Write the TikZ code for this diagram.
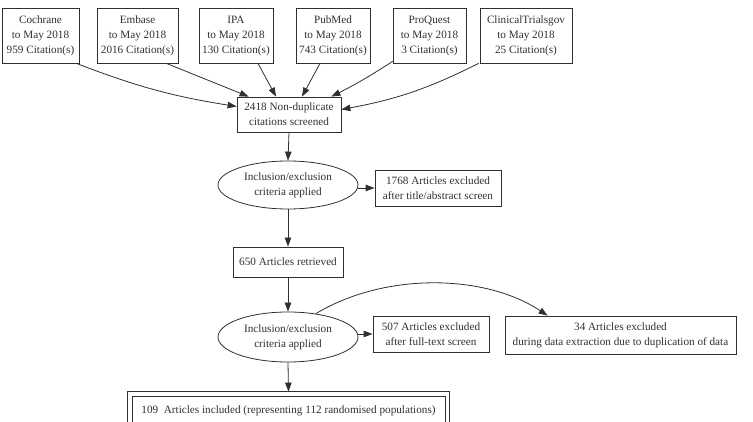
\documentclass[tikz,border=0pt]{standalone}
\usepackage{fontspec}
\setmainfont{Liberation Serif}
\usetikzlibrary{arrows.meta,shapes.geometric}
\definecolor{ink}{HTML}{303030}
\tikzset{
  base/.style={draw=ink,text=ink,line width=0.8pt,inner sep=0pt,align=center,
    font=\fontsize{11.2}{15}\selectfont},
  box/.style={base,rectangle},
  oval/.style={base,ellipse,minimum width=140pt,minimum height=48pt},
  edge/.style={draw=ink,line width=0.8pt,-{Triangle[length=9pt,width=6.5pt]}}
}
\begin{document}
\begin{tikzpicture}[x=1pt,y=-1pt]
\useasboundingbox (0,0) rectangle (753,422);
% sources
\node[box,minimum width=77pt,minimum height=55pt] (coch) at (40.5,35.5) {Cochrane\\to May 2018\\959 Citation(s)};
\node[box,minimum width=81pt,minimum height=55pt] (emb) at (137.5,35.5) {Embase\\to May 2018\\2016 Citation(s)};
\node[box,minimum width=74pt,minimum height=55pt] (ipa) at (236,35.5) {IPA\\to May 2018\\130 Citation(s)};
\node[box,minimum width=74pt,minimum height=55pt] (pub) at (333,35.5) {PubMed\\to May 2018\\743 Citation(s)};
\node[box,minimum width=73pt,minimum height=55pt] (pro) at (429.5,35.5) {ProQuest\\to May 2018\\3 Citation(s)};
\node[box,minimum width=92pt,minimum height=55pt] (ctg) at (526,35.5) {ClinicalTrialsgov\\to May 2018\\25 Citation(s)};
% main column
\node[box,minimum width=104pt,minimum height=35pt] (nd) at (289,114.5) {2418 Non-duplicate\\citations screened};
\node[oval] (e1) at (288,185) {Inclusion/exclusion\\criteria applied};
\node[box,minimum width=126pt,minimum height=36pt] (x1) at (438,188) {1768 Articles excluded\\after title/abstract screen};
\node[box,minimum width=110pt,minimum height=30pt] (ret) at (288,262) {650 Articles retrieved};
\node[oval,minimum height=50pt] (e2) at (288,337) {Inclusion/exclusion\\criteria applied};
\node[box,minimum width=116pt,minimum height=36pt] (x2) at (431,334) {507 Articles excluded\\after full-text screen};
\node[box,minimum width=231pt,minimum height=38pt] (x3) at (620.5,335) {34 Articles excluded\\during data extraction due to duplication of data};
\node[box,minimum width=313pt,minimum height=30pt] (inc) at (288.5,411) {109\ \ Articles included (representing 112 randomised populations)};
\draw[draw=ink,line width=0.8pt] ([shift={(-4pt,4pt)}]inc.north west) rectangle ([shift={(4pt,-4pt)}]inc.south east);
\coordinate (incTop) at ([yshift=4pt]inc.north);
% edges
\draw[edge] ([xshift=-3pt]coch.south east) to[bend right=6] ([yshift=8pt]nd.west);
\draw[edge] ([xshift=-12pt]emb.south east) -- ([xshift=12pt]nd.north west);
\draw[edge] ([xshift=22pt]ipa.south) -- ([xshift=-13pt]nd.north);
\draw[edge] ([xshift=-13pt]pub.south) -- ([xshift=13pt]nd.north);
\draw[edge] ([yshift=2pt]pro.south west) to[bend left=3] ([xshift=-10pt]nd.north east);
\draw[edge] ([xshift=-1pt]ctg.south west) to[bend left=8] ([yshift=5pt]nd.east);
\draw[edge] (nd.south) -- (e1.north);
\draw[edge] (e1.east |- x1.west) -- (x1.west);
\draw[edge] (e1.south) -- (ret.north);
\draw[edge] (ret.south) -- (e2.north);
\draw[edge] (e2.east |- x2.west) -- (x2.west);
\draw[edge] (e2.40) .. controls (385,272) and (485,274) .. ([xshift=43pt]x3.north west);
\draw[edge] (e2.south) -- (incTop);
\end{tikzpicture}
\end{document}
